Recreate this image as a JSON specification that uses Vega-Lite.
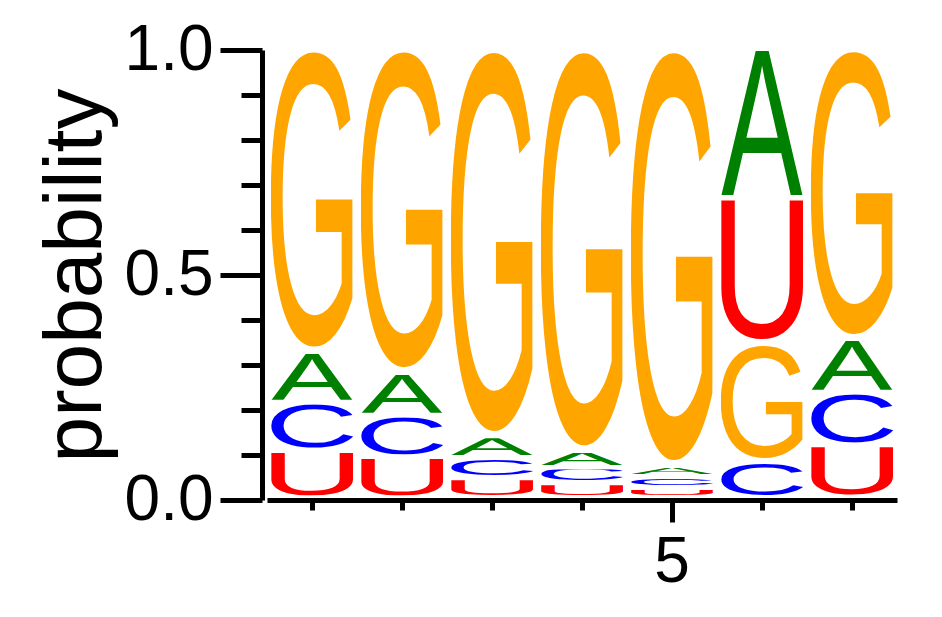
{
  "$schema": "https://vega.github.io/schema/vega-lite/v6.json",
  "width": 630,
  "height": 450,
  "autosize": "none",
  "padding": {"left": 267, "top": 50, "right": 45, "bottom": 117},
  "background": "white",
  "data": {
    "values": [
      {"pos": 1, "base": "U", "p": 0.105}, {"pos": 1, "base": "C", "p": 0.108}, {"pos": 1, "base": "A", "p": 0.113}, {"pos": 1, "base": "G", "p": 0.674},
      {"pos": 2, "base": "U", "p": 0.091}, {"pos": 2, "base": "C", "p": 0.093}, {"pos": 2, "base": "A", "p": 0.096}, {"pos": 2, "base": "G", "p": 0.720},
      {"pos": 3, "base": "U", "p": 0.044}, {"pos": 3, "base": "C", "p": 0.046}, {"pos": 3, "base": "A", "p": 0.047}, {"pos": 3, "base": "G", "p": 0.863},
      {"pos": 4, "base": "U", "p": 0.033}, {"pos": 4, "base": "C", "p": 0.035}, {"pos": 4, "base": "A", "p": 0.037}, {"pos": 4, "base": "G", "p": 0.895},
      {"pos": 5, "base": "U", "p": 0.023}, {"pos": 5, "base": "C", "p": 0.024}, {"pos": 5, "base": "A", "p": 0.025}, {"pos": 5, "base": "G", "p": 0.928},
      {"pos": 6, "base": "C", "p": 0.082}, {"pos": 6, "base": "G", "p": 0.263}, {"pos": 6, "base": "U", "p": 0.322}, {"pos": 6, "base": "A", "p": 0.333},
      {"pos": 7, "base": "U", "p": 0.117}, {"pos": 7, "base": "C", "p": 0.118}, {"pos": 7, "base": "A", "p": 0.119}, {"pos": 7, "base": "G", "p": 0.646}
    ]
  },
  "transform": [
    {"stack": "p", "groupby": ["pos"], "sort": [{"field": "p", "order": "ascending"}], "as": ["lo", "hi"]}
  ],
  "encoding": {
    "x": {
      "field": "pos",
      "type": "ordinal",
      "scale": {"paddingInner": 0.089, "paddingOuter": 0.0445},
      "axis": {
        "values": [1, 2, 3, 4, 5, 6, 7],
        "labelExpr": "datum.value == 5 ? '5' : ''",
        "labelAngle": 0,
        "labelFontSize": 64,
        "labelPadding": 8,
        "tickSize": {"condition": {"test": "datum.value == 5", "value": 22}, "value": 10},
        "title": null,
        "zindex": 1
      }
    }
  },
  "layer": [
    {
      "transform": [{"filter": "datum.base === 'G'"}],
      "mark": {"type": "image", "aspect": false, "y2Offset": -4.5, "url": "data:image/svg+xml,%3Csvg xmlns='http://www.w3.org/2000/svg' viewBox='5.2 -70.4 65.6 71.9' preserveAspectRatio='none'%3E%3Ctext font-family='Liberation Sans' font-size='100' fill='%23FFA500'%3EG%3C/text%3E%3C/svg%3E"},
      "encoding": {
        "y": {
          "field": "hi",
          "type": "quantitative",
          "scale": {"domain": [0, 1], "nice": false},
          "axis": {
            "orient": "left",
            "title": "probability",
            "values": [0, 0.5, 1],
            "format": ".1f",
            "labelFontSize": 64,
            "labelPadding": 7,
            "tickSize": 42,
            "offset": 5,
            "titleFontSize": 82,
            "titlePadding": 7,
            "zindex": 1
          }
        },
        "y2": {"field": "lo"}
      }
    },
    {
      "transform": [{"filter": "datum.base === 'A'"}],
      "mark": {"type": "image", "aspect": false, "y2Offset": -4.5, "url": "data:image/svg+xml,%3Csvg xmlns='http://www.w3.org/2000/svg' viewBox='-0.2 -68.9 67.2 69' preserveAspectRatio='none'%3E%3Ctext font-family='Liberation Sans' font-size='100' fill='%23008000'%3EA%3C/text%3E%3C/svg%3E"},
      "encoding": {
        "y": {
          "field": "hi",
          "type": "quantitative",
          "scale": {"domain": [0, 1], "nice": false},
          "axis": {
            "orient": "left",
            "title": null,
            "values": [0.1, 0.2, 0.3, 0.4, 0.6, 0.7, 0.8, 0.9],
            "labels": false,
            "domain": false,
            "tickSize": 21,
            "offset": 5,
            "zindex": 1
          }
        },
        "y2": {"field": "lo"}
      }
    },
    {
      "transform": [{"filter": "datum.base === 'C'"}],
      "mark": {"type": "image", "aspect": false, "y2Offset": -4.5, "url": "data:image/svg+xml,%3Csvg xmlns='http://www.w3.org/2000/svg' viewBox='4.9 -70.4 63.4 71.9' preserveAspectRatio='none'%3E%3Ctext font-family='Liberation Sans' font-size='100' fill='%230000FF'%3EC%3C/text%3E%3C/svg%3E"},
      "encoding": {
        "y": {"field": "hi", "type": "quantitative", "scale": {"domain": [0, 1], "nice": false}, "axis": null},
        "y2": {"field": "lo"}
      }
    },
    {
      "transform": [{"filter": "datum.base === 'U'"}],
      "mark": {"type": "image", "aspect": false, "y2Offset": -4.5, "url": "data:image/svg+xml,%3Csvg xmlns='http://www.w3.org/2000/svg' viewBox='7.5 -68.9 57 70.4' preserveAspectRatio='none'%3E%3Ctext font-family='Liberation Sans' font-size='100' fill='%23FF0000'%3EU%3C/text%3E%3C/svg%3E"},
      "encoding": {
        "y": {"field": "hi", "type": "quantitative", "scale": {"domain": [0, 1], "nice": false}, "axis": null},
        "y2": {"field": "lo"}
      }
    }
  ],
  "resolve": {"axis": {"y": "independent"}},
  "config": {
    "view": {"stroke": null},
    "font": "Liberation Sans",
    "axis": {
      "domainColor": "black",
      "domainWidth": 5,
      "tickColor": "black",
      "tickWidth": 5,
      "labelColor": "black",
      "labelFont": "Liberation Sans",
      "titleFont": "Liberation Sans",
      "titleColor": "black",
      "titleFontWeight": "normal",
      "grid": false
    }
  }
}
